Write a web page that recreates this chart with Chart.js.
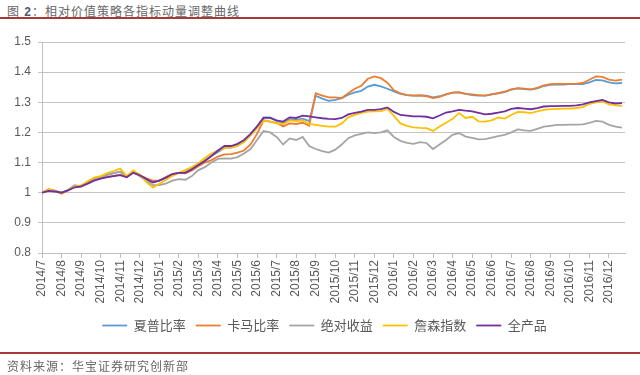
<!DOCTYPE html>
<html lang="zh-CN">
<head>
  <meta charset="UTF-8">
  <title>相对价值策略各指标动量调整曲线</title>
  <script src="https://cdn.jsdelivr.net/npm/chart.js"></script>
  <style>
    body { margin: 0; width: 640px; height: 375px; background: #fff; position: relative; overflow: hidden;
           font-family: "Liberation Sans", "Noto Sans CJK SC", sans-serif; }
    .titulo { position: absolute; left: 7px; top: 2px; font-size: 12px; color: #666; letter-spacing: 1px; }
    .titulo b { color: #4a5a70; }
    .linha { position: absolute; left: 0; width: 640px; height: 2px; background: #a33a36; }
    .fonte { position: absolute; left: 7px; top: 357px; font-size: 12px; color: #666; letter-spacing: 1px; }
    .grafico { position: absolute; left: 0; top: 0; width: 640px; height: 375px; }
  </style>
</head>
<body>
  <div class="titulo">图 <b>2</b>：相对价值策略各指标动量调整曲线</div>
  <div class="linha" style="top:17px"></div>
  <div class="grafico"><canvas id="grafico"></canvas></div>
  <div class="linha" style="top:352px"></div>
  <div class="fonte">资料来源：华宝证券研究创新部</div>

  <script>
    // month ticks, 3 readings per month starting 2014/7
    const meses = ['2014/7','2014/8','2014/9','2014/10','2014/11','2014/12',
      '2015/1','2015/2','2015/3','2015/4','2015/5','2015/6','2015/7','2015/8','2015/9','2015/10','2015/11','2015/12',
      '2016/1','2016/2','2016/3','2016/4','2016/5','2016/6','2016/7','2016/8','2016/9','2016/10','2016/11','2016/12'];
    const porMes = 3;

    const sharpe = [1.000,1.008,1.005,1.000,1.008,1.020,1.022,1.035,1.046,1.052,1.060,1.065,1.070,1.054,1.070,1.058,1.046,1.035,1.040,1.050,
      1.062,1.066,1.068,1.080,1.094,1.108,1.122,1.135,1.148,1.150,1.156,1.170,1.192,1.218,1.250,1.250,1.238,1.232,1.244,1.242,
      1.246,1.238,1.322,1.312,1.305,1.308,1.314,1.325,1.333,1.338,1.352,1.358,1.353,1.345,1.336,1.328,1.324,1.322,1.323,1.322,
      1.316,1.320,1.326,1.332,1.332,1.328,1.324,1.322,1.322,1.326,1.330,1.334,1.342,1.346,1.344,1.342,1.346,1.354,1.358,1.359,
      1.359,1.360,1.360,1.360,1.366,1.374,1.373,1.366,1.363,1.364];
    const calmar = [1.000,1.012,1.007,0.998,1.008,1.018,1.020,1.032,1.042,1.048,1.052,1.056,1.060,1.052,1.072,1.058,1.048,1.040,1.040,1.052,
      1.062,1.066,1.064,1.074,1.088,1.100,1.108,1.120,1.127,1.128,1.133,1.140,1.160,1.195,1.240,1.236,1.232,1.220,1.230,1.228,
      1.232,1.222,1.330,1.322,1.316,1.316,1.314,1.330,1.345,1.355,1.378,1.386,1.380,1.365,1.340,1.330,1.324,1.322,1.323,1.320,
      1.314,1.318,1.326,1.332,1.334,1.328,1.326,1.324,1.322,1.326,1.330,1.335,1.343,1.347,1.345,1.343,1.348,1.356,1.360,1.361,
      1.361,1.361,1.362,1.364,1.375,1.386,1.384,1.375,1.372,1.375];
    const absoluto = [1.000,1.008,1.006,1.000,1.010,1.025,1.022,1.030,1.042,1.050,1.058,1.065,1.070,1.052,1.068,1.055,1.040,1.025,1.025,1.030,
      1.040,1.045,1.043,1.055,1.075,1.085,1.100,1.112,1.114,1.113,1.118,1.130,1.145,1.175,1.205,1.200,1.185,1.160,1.180,1.175,
      1.185,1.155,1.145,1.138,1.133,1.143,1.160,1.181,1.190,1.195,1.200,1.198,1.200,1.207,1.185,1.172,1.165,1.162,1.168,1.165,
      1.145,1.160,1.175,1.192,1.198,1.186,1.182,1.177,1.178,1.183,1.188,1.192,1.200,1.210,1.207,1.205,1.212,1.219,1.222,1.225,
      1.225,1.226,1.226,1.227,1.232,1.238,1.236,1.225,1.219,1.216];
    const jensen = [1.000,1.010,1.006,0.996,1.008,1.020,1.024,1.038,1.050,1.055,1.065,1.072,1.080,1.055,1.074,1.060,1.036,1.017,1.030,1.042,
      1.056,1.066,1.075,1.085,1.098,1.115,1.130,1.140,1.147,1.150,1.155,1.168,1.190,1.215,1.240,1.236,1.230,1.228,1.240,1.238,
      1.240,1.228,1.225,1.222,1.219,1.219,1.230,1.250,1.258,1.265,1.269,1.270,1.271,1.278,1.255,1.230,1.222,1.217,1.215,1.214,
      1.205,1.220,1.232,1.245,1.264,1.248,1.252,1.237,1.236,1.240,1.250,1.246,1.258,1.268,1.267,1.264,1.270,1.275,1.277,1.278,
      1.279,1.279,1.281,1.284,1.295,1.300,1.303,1.293,1.290,1.288];
    const todos = [1.000,1.006,1.004,1.000,1.008,1.018,1.021,1.030,1.040,1.047,1.052,1.055,1.058,1.051,1.066,1.058,1.046,1.034,1.040,1.050,
      1.062,1.066,1.066,1.078,1.092,1.105,1.122,1.140,1.155,1.155,1.162,1.175,1.195,1.220,1.248,1.248,1.240,1.236,1.250,1.248,
      1.256,1.253,1.250,1.247,1.245,1.244,1.248,1.260,1.265,1.269,1.275,1.275,1.277,1.283,1.268,1.258,1.256,1.253,1.253,1.252,
      1.247,1.256,1.266,1.270,1.275,1.272,1.270,1.265,1.260,1.262,1.266,1.270,1.278,1.281,1.279,1.277,1.281,1.286,1.287,1.287,
      1.288,1.288,1.290,1.293,1.300,1.304,1.308,1.300,1.296,1.297];

    function pontos(serie) {
      return serie.map((v, i) => ({ x: i / porMes, y: v }));
    }

    function linha(nome, serie, cor, ordem) {
      return {
        label: nome,
        data: pontos(serie),
        borderColor: cor,
        backgroundColor: cor,
        borderWidth: 1.8,
        pointRadius: 0,
        tension: 0,
        fill: false,
        order: ordem
      };
    }

    // legend sits a bit right of the page centre in the original
    const empurraLegenda = {
      id: "empurraLegenda",
      afterLayout(chart) {
        chart.legend.left += 12;
        chart.legend.right += 12;
      }
    };

    const fonteEixo = { family: "'Liberation Sans', 'Noto Sans CJK SC'", size: 12 };

    new Chart(document.getElementById("grafico"), {
      type: "line",
      data: {
        datasets: [
          linha("夏普比率", sharpe, "#5b9bd5", 5),
          linha("卡马比率", calmar, "#ed7d31", 4),
          linha("绝对收益", absoluto, "#a5a5a5", 3),
          linha("詹森指数", jensen, "#ffc000", 2),
          linha("全产品", todos, "#7030a0", 1)
        ]
      },
      plugins: [empurraLegenda],
      options: {
        responsive: true,
        maintainAspectRatio: false,
        animation: false,
        layout: { padding: { top: 42, right: 15, bottom: 33, left: 0 } },
        plugins: {
          tooltip: { enabled: false },
          legend: {
            position: "bottom",
            labels: {
              usePointStyle: true,
              pointStyle: "line",
              pointStyleWidth: 25,
              padding: 10,
              color: "#595959",
              font: { family: "'Noto Sans CJK SC'", size: 13 },
              sort: (a, b) => a.datasetIndex - b.datasetIndex
            }
          }
        },
        scales: {
          x: {
            type: "linear",
            min: 0,
            max: 29.82,
            afterFit: s => { s.height = 56; },
            grid: { drawOnChartArea: false, drawTicks: true, tickLength: 5, color: "#bfbfbf" },
            border: { color: "#bfbfbf" },
            ticks: {
              stepSize: 1,
              includeBounds: false,
              autoSkip: false,
              minRotation: 90,
              maxRotation: 90,
              padding: 2,
              color: "#595959",
              font: fonteEixo,
              callback: v => meses[v] || ""
            }
          },
          y: {
            min: 0.8,
            max: 1.5,
            afterFit: s => { s.width = 42; },
            grid: { color: "#c4c4c4", tickLength: 4 },
            border: { color: "#bfbfbf" },
            ticks: {
              stepSize: 0.1,
              padding: 7,
              color: "#595959",
              font: fonteEixo,
              callback: v => String(Math.round(v * 10) / 10)
            }
          }
        }
      }
    });
  </script>
</body>
</html>
